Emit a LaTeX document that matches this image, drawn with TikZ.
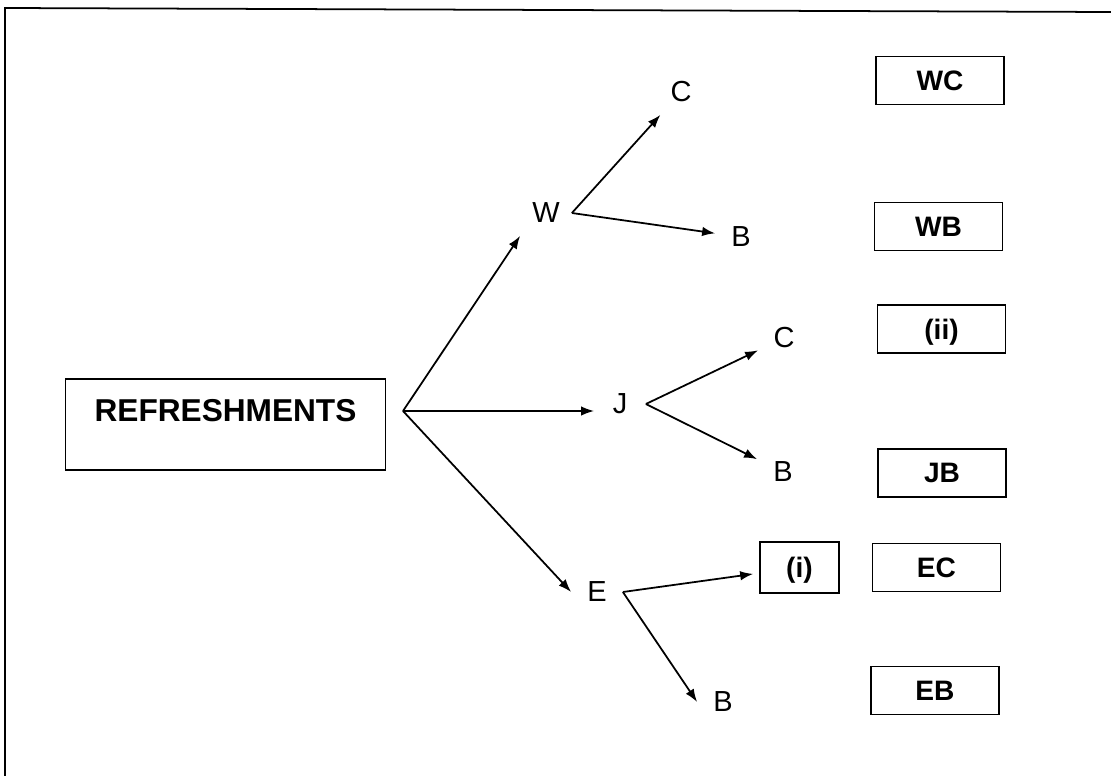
\documentclass[tikz,border=0pt]{standalone}
\usepackage{fontspec}
\setmainfont{Liberation Sans}
\usetikzlibrary{arrows.meta}

\begin{document}
\begin{tikzpicture}[x=0.2mm, y=-0.2mm, >={Latex[length=2.6mm,width=1.9mm]}, line width=1pt]
	\tikzset{letter/.style={inner sep=0pt, minimum width=10mm, minimum height=8.8mm, font=\fontsize{16.5}{20}\selectfont},
		outcome/.style={draw, rectangle, align=center, minimum width=25.6mm, minimum height=9.6mm, inner sep=0pt, text depth=0pt, font=\fontsize{16}{19}\selectfont\bfseries},
		}
	\useasboundingbox (0,0) rectangle (1111,776);
	\draw (5,776) -- (5,8) -- (1111,12);

	\node [draw, inner xsep=0pt, inner ysep=0pt, minimum width=64mm, text height=8.4mm, text depth=9.8mm, font=\fontsize{18}{21}\selectfont\bfseries] (refresh) at (225.5,424.5) {REFRESHMENTS};
	\coordinate (hub) at (403,411);

	\node [letter] (w) at (546,213) {W};
	\node [letter] (wc) at (681,92) {C};
	\node [letter] (wb) at (741,237) {B};
	\node [letter] (j) at (620,404) {J};
	\node [letter] (jc) at (784,338) {C};
	\node [letter] (jb) at (783,472) {B};
	\node [letter] (e) at (597,592) {E};
	\node [outcome, minimum width=15.8mm, minimum height=10.2mm] (blankone) at (799.5,567.5) {(i)};
	\node [letter] (eb) at (723,702) {B};

	\node [outcome] (boxwc) at (940,80.5) {WC};
	\node [outcome] (boxwb) at (938.5,226.5) {WB};
	\node [outcome] (blanktwo) at (941.5,329) {(ii)};
	\node [outcome] (boxjb) at (942,473) {JB};
	\node [outcome] (boxec) at (936.5,567.5) {EC};
	\node [outcome] (boxeb) at (935,690.5) {EB};

	\path[draw] (hub) edge[->] (w.south west);
	\path[draw] (hub) edge[->] (hub -| j.west);
	\path[draw] (hub) edge[->] (e.west);
	\path[draw] (w.east) edge[->] (wc);
	\path[draw] (w.east) edge[->] (wb);
	\path[draw] (j.east) edge[->] (jc);
	\path[draw] (j.east) edge[->] (jb);
	\path[draw] (e.east) edge[->, shorten >=1.2mm] (blankone);
	\path[draw] (e.east) edge[->] (eb.west);

\end{tikzpicture}
\end{document}
